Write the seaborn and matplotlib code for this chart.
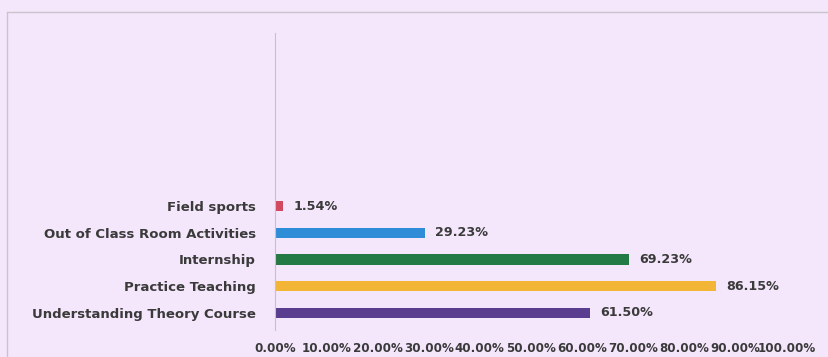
import numpy as np
import pandas as pd
import matplotlib
matplotlib.use("Agg")
import matplotlib.pyplot as plt
from matplotlib.lines import Line2D
from matplotlib.ticker import PercentFormatter
import seaborn as sns

# data, listed top to bottom as in the chart
categories = ["Field sports", "Out of Class Room Activities", "Internship",
              "Practice Teaching", "Understanding Theory Course"]
values = [1.54, 29.23, 69.23, 86.15, 61.50]
bar_colors = ["#d2485e", "#2f8dd8", "#247a45", "#f2b535", "#5a3d8e"]
x_ticks = [0, 10, 20, 30, 40, 50, 60, 70, 80, 90, 100]

bg = "#f4e6fb"
text_col = "#3a3a3a"

sns.set_theme(style="white")
plt.rcParams["font.family"] = ["DejaVu Sans"]

df = pd.DataFrame({"category": categories, "value": values})

fig = plt.figure(figsize=(8.29, 3.57), dpi=100, facecolor=bg)
ax = fig.add_axes([0.332, 0.076, 0.617, 0.832])
ax.set_facecolor(bg)

sns.barplot(data=df, y="category", x="value", hue="category",
            palette=bar_colors, orient="h", width=0.38, legend=False,
            saturation=1, linewidth=0, ax=ax)

for i, v in enumerate(values):
    ax.text(v + 2.0, i, f"{v:.2f}%", va="center", ha="left",
            fontsize=9.2, fontweight="bold", color=text_col)

ax.set_xlim(0, 100)
ax.set_ylim(4.64, -6.5)
ax.set_xticks(x_ticks)
ax.xaxis.set_major_formatter(PercentFormatter(decimals=2))
ax.set_xlabel("")
ax.set_ylabel("")
ax.tick_params(axis="x", length=0, pad=9, labelsize=8.6, labelcolor=text_col)
ax.tick_params(axis="y", length=0, pad=14, labelsize=9.5, labelcolor=text_col)
for lbl in ax.get_yticklabels():
    lbl.set_fontweight("bold")
for lbl in ax.get_xticklabels():
    lbl.set_fontweight("semibold")

for s in ["top", "right", "bottom"]:
    ax.spines[s].set_visible(False)
ax.spines["left"].set_color("#c8c0cc")
ax.spines["left"].set_linewidth(0.8)

# faint outer frame of the chart area
fig.add_artist(Line2D([0.009, 1.0], [0.966, 0.966], color="#c9c3cc", lw=1.0))
fig.add_artist(Line2D([0.009, 0.009], [0.0, 0.966], color="#c9c3cc", lw=1.0))

fig.savefig("out.png", dpi=100, facecolor=bg)
